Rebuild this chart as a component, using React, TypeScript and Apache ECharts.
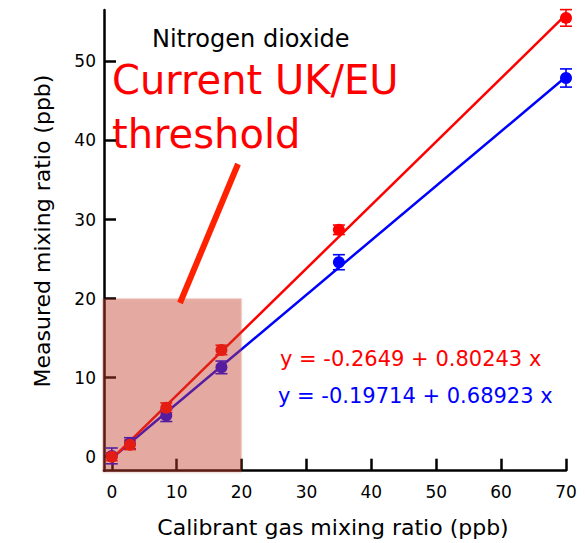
import React, { useEffect, useRef } from "react";
import * as echarts from "echarts";

// Calibration of the NO2 instrument against a calibrant gas
const calibrant = [0, 2.8, 8.4, 16.9, 35, 70];
const measuredRed = [0.0, 1.5, 6.2, 13.5, 28.7, 55.5];
const errRed = [0.5, 0.6, 0.6, 0.6, 0.6, 1.05];
const measuredBlue = [0.1, 1.7, 5.2, 11.3, 24.6, 47.9];
const errBlue = [1.0, 0.7, 0.75, 0.8, 0.95, 1.15];

// Linear fits: y = intercept + slope * x
const fitRed = { intercept: -0.2649, slope: 0.80243, label: "y = -0.2649 + 0.80243 x" };
const fitBlue = { intercept: -0.19714, slope: 0.68923, label: "y = -0.19714 + 0.68923 x" };
const fitRange = [0, 70];

const xTicks = [0, 10, 20, 30, 40, 50, 60, 70];
const yTicks = [0, 10, 20, 30, 40, 50];
const threshold = [20, 20]; // x, y of the shaded UK/EU limit box

const X_MIN = -1.2;
const X_MAX = 70;
const Y_MIN = -1.77;
const Y_MAX = 56.5;

const RED = "#ff0000";
const BLUE = "#0000ff";
const FONT = "DejaVu Sans";

function fitLine(fit: { intercept: number; slope: number }) {
  return fitRange.map((x) => [x, fit.intercept + fit.slope * x]);
}

function errorSeries(name: string, ys: number[], errs: number[], color: string) {
  return {
    type: "custom",
    name,
    data: calibrant.map((x, i) => [x, ys[i], errs[i]]),
    encode: { x: 0, y: 1 },
    z: 3,
    renderItem: (params: any, api: any) => {
      const x = api.value(0);
      const y = api.value(1);
      const e = api.value(2);
      const top = api.coord([x, y + e]);
      const bot = api.coord([x, y - e]);
      const hw = 6;
      const style = { stroke: color, lineWidth: 1.6 };
      return {
        type: "group",
        children: [
          { type: "line", shape: { x1: top[0], y1: top[1], x2: bot[0], y2: bot[1] }, style },
          { type: "line", shape: { x1: top[0] - hw, y1: top[1], x2: top[0] + hw, y2: top[1] }, style },
          { type: "line", shape: { x1: bot[0] - hw, y1: bot[1], x2: bot[0] + hw, y2: bot[1] }, style },
        ],
      };
    },
  };
}

export default function App() {
  const ref = useRef<HTMLDivElement>(null);

  useEffect(() => {
    if (!ref.current) return;
    const chart = echarts.init(ref.current, null, { renderer: "svg" });

    const axisCommon = {
      type: "value",
      splitLine: { show: false },
      axisLine: { show: true, onZero: false, lineStyle: { color: "#000", width: 2.5 } },
      axisTick: { show: true, inside: true, length: 12, lineStyle: { color: "#000", width: 2.5 } },
    };

    chart.setOption({
      animation: false,
      backgroundColor: "#fff",
      grid: { left: 104, right: 19, top: 10, bottom: 72.3, containLabel: false },
      xAxis: {
        ...axisCommon,
        min: X_MIN,
        max: X_MAX,
        axisTick: { ...axisCommon.axisTick, customValues: xTicks },
        axisLabel: {
          customValues: xTicks,
          fontFamily: FONT,
          fontSize: 17,
          color: "#000",
          margin: 13,
        },
      },
      yAxis: {
        ...axisCommon,
        min: Y_MIN,
        max: Y_MAX,
        axisTick: { ...axisCommon.axisTick, customValues: yTicks },
        axisLabel: {
          customValues: yTicks,
          fontFamily: FONT,
          fontSize: 17,
          color: "#000",
          margin: 8,
        },
      },
      series: [
        {
          type: "line",
          name: "fit blue",
          data: fitLine(fitBlue),
          showSymbol: false,
          lineStyle: { color: BLUE, width: 2.5 },
          z: 2,
        },
        {
          type: "line",
          name: "fit red",
          data: fitLine(fitRed),
          showSymbol: false,
          lineStyle: { color: RED, width: 2.5 },
          z: 2,
        },
        errorSeries("err blue", measuredBlue, errBlue, BLUE),
        errorSeries("err red", measuredRed, errRed, RED),
        {
          type: "scatter",
          name: "blue",
          data: calibrant.map((x, i) => [x, measuredBlue[i]]),
          symbol: "circle",
          symbolSize: 12,
          itemStyle: { color: BLUE, opacity: 1 },
          z: 4,
        },
        {
          type: "scatter",
          name: "red",
          data: calibrant.map((x, i) => [x, measuredRed[i]]),
          symbol: "circle",
          symbolSize: 12,
          itemStyle: { color: RED, opacity: 1 },
          z: 4,
        },
        {
          type: "custom",
          name: "threshold",
          data: [threshold],
          z: 10,
          renderItem: (params: any, api: any) => {
            const p0 = api.coord([X_MIN, Y_MIN]);
            const p1 = api.coord([api.value(0), api.value(1)]);
            const x0 = p0[0] - 1.5;
            const y0 = p0[1] + 1.5;
            return {
              type: "rect",
              shape: { x: x0, y: p1[1], width: p1[0] - x0, height: y0 - p1[1] },
              style: {
                fill: "rgba(205, 70, 50, 0.4)",
                shadowBlur: 3,
                shadowOffsetY: 1,
                shadowColor: "rgba(0,0,0,0.2)",
              },
            };
          },
        },
      ],
      graphic: [
        {
          type: "line",
          z: 20,
          shape: { x1: 238, y1: 164, x2: 180, y2: 303 },
          style: { stroke: "#ff2200", lineWidth: 6 },
        },
        {
          type: "text",
          left: 152,
          top: 27,
          style: { text: "Nitrogen dioxide", font: `24px "${FONT}"`, fill: "#000" },
        },
        {
          type: "text",
          left: 112,
          top: 60,
          style: { text: "Current UK/EU", font: `40px "${FONT}"`, fill: RED },
        },
        {
          type: "text",
          left: 112,
          top: 114,
          style: { text: "threshold", font: `40px "${FONT}"`, fill: RED },
        },
        {
          type: "text",
          left: 280,
          top: 348,
          style: { text: fitRed.label, font: `21px "${FONT}"`, fill: RED },
        },
        {
          type: "text",
          left: 278,
          top: 385,
          style: { text: fitBlue.label, font: `21px "${FONT}"`, fill: BLUE },
        },
        {
          type: "text",
          x: 333,
          y: 527,
          style: {
            text: "Calibrant gas mixing ratio (ppb)",
            font: `22px "${FONT}"`,
            fill: "#000",
            align: "center",
            verticalAlign: "middle",
          },
        },
        {
          type: "text",
          x: 42,
          y: 231,
          rotation: Math.PI / 2,
          style: {
            text: "Measured mixing ratio (ppb)",
            font: `22px "${FONT}"`,
            fill: "#000",
            align: "center",
            verticalAlign: "middle",
          },
        },
      ],
    });

    return () => chart.dispose();
  }, []);

  return (
    <div
      ref={ref}
      style={{ position: "fixed", left: 0, top: 0, width: 585, height: 543 }}
    />
  );
}
